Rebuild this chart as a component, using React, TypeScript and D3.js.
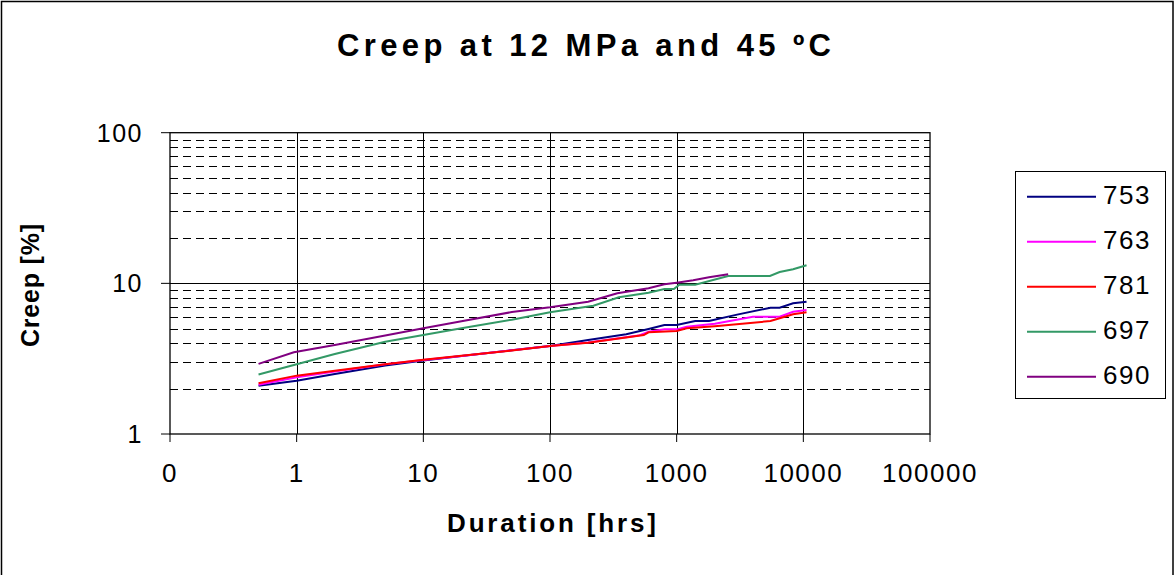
import React, { useEffect, useRef } from 'react';
import * as d3 from 'd3';

// series names, colours, and measured points (hours, creep %)
const seriesNames = ['753', '763', '781', '697', '690'];
const seriesColors = ['#000080', '#ff00ff', '#ff0000', '#339966', '#800080'];

const t753 = [0.5, 1, 2, 5, 10, 20, 50, 100, 200, 400, 600, 800, 1000, 1400, 1800, 3000, 5500, 6500, 8300, 10600];
const v753 = [2.09, 2.26, 2.5, 2.85, 3.07, 3.3, 3.6, 3.84, 4.2, 4.59, 4.98, 5.29, 5.29, 5.62, 5.62, 6.2, 6.89, 6.89, 7.37, 7.55];

const t763 = [0.5, 1, 2, 5, 10, 20, 50, 100, 200, 500, 600, 800, 1000, 1200, 2000, 4000, 6500, 8300, 10600];
const v763 = [2.12, 2.38, 2.6, 2.9, 3.1, 3.3, 3.6, 3.84, 4.05, 4.5, 4.77, 4.95, 4.95, 5.15, 5.4, 6.0, 6.0, 6.48, 6.65];

const t781 = [0.5, 1, 2, 5, 10, 20, 50, 100, 200, 550, 600, 1000, 1200, 2000, 5500, 6500, 8300, 10600];
const v781 = [2.17, 2.44, 2.63, 2.9, 3.11, 3.31, 3.58, 3.84, 4.04, 4.54, 4.73, 4.83, 5.03, 5.2, 5.62, 5.86, 6.23, 6.42];

const t697 = [0.5, 1, 2, 5, 10, 20, 50, 100, 220, 350, 600, 800, 950, 1050, 1400, 2550, 5450, 6500, 8300, 10600];
const v697 = [2.48, 2.9, 3.4, 4.1, 4.54, 5.04, 5.74, 6.42, 7.1, 8.08, 8.67, 9.17, 9.17, 9.8, 9.8, 11.2, 11.2, 11.9, 12.4, 13.2];

const t690 = [0.5, 0.95, 2, 5, 10, 20, 50, 100, 200, 340, 600, 800, 1000, 1350, 1800, 2550];
const v690 = [2.92, 3.49, 3.9, 4.5, 5.03, 5.6, 6.45, 6.93, 7.55, 8.59, 9.27, 9.85, 10.1, 10.5, 10.96, 11.5];

const seriesTimes = [t753, t763, t781, t697, t690];
const seriesValues = [v753, v763, v781, v697, v690];

const xTicks = [0.1, 1, 10, 100, 1000, 10000, 100000];
const xTickLabels = ['0', '1', '10', '100', '1000', '10000', '100000'];
const yTicks = [1, 10, 100];

const FONT = '"Liberation Sans", Arial, sans-serif';

const App = () => {
    const svgRef = useRef<SVGSVGElement>(null);

    useEffect(() => {
        const svg = d3.select(svgRef.current);
        svg.selectAll('*').remove();

        const left = 170, right = 930, top = 132.7, bottom = 434;
        const x = d3.scaleLog().domain([0.1, 100000]).range([left, right]);
        const y = d3.scaleLog().domain([1, 100]).range([bottom, top]);

        svg.append('rect').attr('x', 1.5).attr('y', 1.5).attr('width', 1171.5).attr('height', 590)
            .attr('fill', '#fff').attr('stroke', '#000').attr('stroke-width', 1.5);

        // minor dashed gridlines
        const minor: number[] = [];
        [1, 10].forEach((d) => { for (let k = 2; k <= 9; k++) minor.push(d * k); });
        svg.append('g').selectAll('line').data(minor).enter().append('line')
            .attr('x1', left).attr('x2', right)
            .attr('y1', (d) => Math.round(y(d)) + 0.5).attr('y2', (d) => Math.round(y(d)) + 0.5)
            .attr('stroke', '#000').attr('stroke-width', 1).attr('stroke-dasharray', '8,5');

        // major gridlines
        svg.append('g').selectAll('line').data([10]).enter().append('line')
            .attr('x1', left).attr('x2', right)
            .attr('y1', (d) => Math.round(y(d)) + 0.5).attr('y2', (d) => Math.round(y(d)) + 0.5)
            .attr('stroke', '#000').attr('stroke-width', 1);
        svg.append('g').selectAll('line').data(xTicks.slice(1, -1)).enter().append('line')
            .attr('x1', (d) => Math.round(x(d)) + 0.5).attr('x2', (d) => Math.round(x(d)) + 0.5)
            .attr('y1', top).attr('y2', bottom)
            .attr('stroke', '#000').attr('stroke-width', 1);

        // plot frame
        svg.append('rect').attr('x', left).attr('y', top).attr('width', right - left).attr('height', bottom - top)
            .attr('fill', 'none').attr('stroke', '#000').attr('stroke-width', 1.3);

        // x axis ticks + labels
        const xAxis = svg.append('g');
        xAxis.selectAll('line').data(xTicks).enter().append('line')
            .attr('x1', (d) => x(d)).attr('x2', (d) => x(d))
            .attr('y1', bottom).attr('y2', bottom + 8)
            .attr('stroke', '#000').attr('stroke-width', 1);
        xAxis.selectAll('text').data(xTicks).enter().append('text')
            .attr('x', (d) => x(d)).attr('y', 482)
            .attr('text-anchor', 'middle')
            .style('font-family', FONT).style('font-size', '26px').style('letter-spacing', '1.5px')
            .text((d, i) => xTickLabels[i]);

        // y axis ticks + labels
        const yAxis = svg.append('g');
        yAxis.selectAll('line').data(yTicks).enter().append('line')
            .attr('x1', left - 9).attr('x2', left)
            .attr('y1', (d) => y(d)).attr('y2', (d) => y(d))
            .attr('stroke', '#000').attr('stroke-width', 1);
        yAxis.selectAll('text').data(yTicks).enter().append('text')
            .attr('x', 143).attr('y', (d) => y(d) + 9)
            .attr('text-anchor', 'end')
            .style('font-family', FONT).style('font-size', '25px').style('letter-spacing', '1.5px')
            .text((d) => String(d));

        // series
        const line = d3.line<[number, number]>().x((d) => x(d[0])).y((d) => y(d[1]));
        seriesNames.forEach((name, i) => {
            const pts: [number, number][] = seriesTimes[i].map((t, j) => [t, seriesValues[i][j]]);
            svg.append('path').datum(pts).attr('d', line)
                .attr('fill', 'none').attr('stroke', seriesColors[i]).attr('stroke-width', 2);
        });

        // titles
        svg.append('text').attr('x', 337).attr('y', 56)
            .attr('textLength', 494).attr('lengthAdjust', 'spacing')
            .style('font-family', FONT).style('font-size', '31px').style('font-weight', 'bold')
            .text('Creep at 12 MPa and 45 ºC');
        svg.append('text').attr('x', 447).attr('y', 532)
            .attr('textLength', 209).attr('lengthAdjust', 'spacing')
            .style('font-family', FONT).style('font-size', '26px').style('font-weight', 'bold')
            .text('Duration [hrs]');
        svg.append('text').attr('transform', 'translate(39, 347) rotate(-90)')
            .attr('textLength', 123).attr('lengthAdjust', 'spacing')
            .style('font-family', FONT).style('font-size', '25px').style('font-weight', 'bold')
            .text('Creep [%]');

        // legend
        const lg = svg.append('g');
        lg.append('rect').attr('x', 1015.5).attr('y', 171.5).attr('width', 150).attr('height', 227)
            .attr('fill', '#fff').attr('stroke', '#000').attr('stroke-width', 1);
        seriesNames.forEach((name, i) => {
            const ry = 196.7 + i * 45;
            lg.append('line').attr('x1', 1027).attr('x2', 1096).attr('y1', ry).attr('y2', ry)
                .attr('stroke', seriesColors[i]).attr('stroke-width', 2);
            lg.append('text').attr('x', 1103).attr('y', ry + 7)
                .style('font-family', FONT).style('font-size', '26px').style('letter-spacing', '1.5px')
                .text(name);
        });
    }, []);

    return (
        <svg ref={svgRef} width={1176} height={575}
            style={{ position: 'absolute', left: 0, top: 0, background: '#fff' }}></svg>
    );
};

export default App;
